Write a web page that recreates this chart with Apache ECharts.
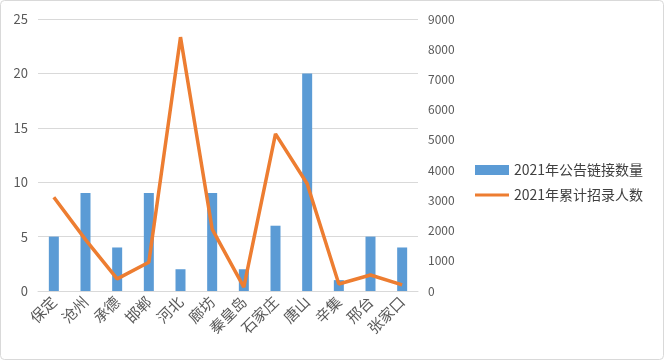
<!DOCTYPE html>
<html><head><meta charset="utf-8">
<script src="https://cdn.jsdelivr.net/npm/echarts@6/dist/echarts.min.js"></script>
<style>html,body{margin:0;padding:0;background:#fff}#c{width:665px;height:361px}</style>
</head><body><div id="c"></div>
<script>
const categories = ['保定','沧州','承德','邯郸','河北','廊坊','秦皇岛','石家庄','唐山','辛集','邢台','张家口'];
const linkCounts = [5,9,4,9,2,9,2,6,20,1,5,4];
const hires = [3100,1700,400,950,8400,2050,130,5200,3550,230,530,200];
const leftTicks = {min:0, max:25, interval:5};
const rightTicks = {min:0, max:9000, interval:1000};
const seriesNames = ['2021年公告链接数量','2021年累计招录人数'];

const font = '"Noto Sans CJK SC", "Microsoft YaHei", sans-serif';
const chart = echarts.init(document.getElementById('c'));
chart.setOption({
  animation:false,
  backgroundColor:'#fff',
  textStyle:{fontFamily:font},
  graphic:[{type:'rect',shape:{x:0.5,y:0.5,width:663,height:359,r:4},style:{fill:'none',stroke:'#d9d9d9',lineWidth:1},z:-1}],
  grid:{left:38,right:247,top:19,bottom:70,containLabel:false},
  legend:{orient:'vertical',left:470,top:158,itemWidth:34,itemHeight:10,itemGap:11,
    textStyle:{color:'#404040',fontSize:14,fontFamily:font},
    data:[{name:seriesNames[0],icon:'rect'},
          {name:seriesNames[1],icon:'path://M0,0 L0.01,0 L0.01,0.01 Z M0,3.5 L34,3.5 L34,6.5 L0,6.5 Z M33.99,9.99 L34,9.99 L34,10 Z'}]},
  xAxis:{type:'category',data:categories,
    axisLine:{lineStyle:{color:'#d9d9d9'}},axisTick:{show:false},
    axisLabel:{rotate:45,interval:0,color:'#595959',fontSize:15,margin:8,fontFamily:font}},
  yAxis:[
    {type:'value',min:leftTicks.min,max:leftTicks.max,interval:leftTicks.interval,
     axisLine:{show:false},axisTick:{show:false},
     splitLine:{lineStyle:{color:'#d9d9d9'}},
     axisLabel:{color:'#595959',fontSize:13,margin:10}},
    {type:'value',min:rightTicks.min,max:rightTicks.max,interval:rightTicks.interval,
     axisLine:{show:false},axisTick:{show:false},splitLine:{show:false},
     axisLabel:{color:'#595959',fontSize:12,margin:10,formatter:v=>String(v)}}
  ],
  series:[
    {name:seriesNames[0],type:'bar',data:linkCounts,barWidth:10,itemStyle:{color:'#5b9bd5'}},
    {name:seriesNames[1],type:'line',yAxisIndex:1,data:hires,symbol:'none',
     lineStyle:{color:'#ed7d31',width:3.5},itemStyle:{color:'#ed7d31'}}
  ]
});
</script></body></html>
